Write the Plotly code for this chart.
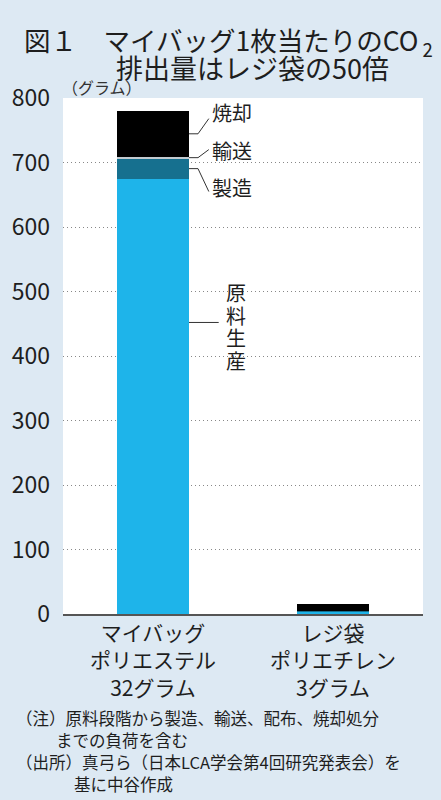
import plotly.graph_objects as go

# data (g CO2 per bag)
categories = ["マイバッグ", "レジ袋"]
tick_labels = ["マイバッグ<br>ポリエステル<br>32グラム", "レジ袋<br>ポリエチレン<br>3グラム"]
stages = ["原料生産", "製造", "輸送", "焼却"]
genryo = [675, 3.5]
seizo = [31, 1.5]
yuso = [3, 0.2]
shokyaku = [71, 11]
stage_colors = ["#1eb4ea", "#16708f", "#c3cbd0", "#000000"]

W, H = 441, 800
ML, MR, MT, MB = 61, 18, 98, 186
FONT = "Noto Sans CJK JP, Noto Sans, sans-serif"
TXT = "#1e1e1e"

def px(x):  # pixel -> paper x
    return (x - ML) / (W - ML - MR)

def py(y):  # pixel -> paper y
    return (H - MB - y) / (H - MT - MB)

fig = go.Figure()
for name, vals, col in zip(stages, [genryo, seizo, yuso, shokyaku], stage_colors):
    fig.add_trace(go.Bar(x=categories, y=vals, name=name, marker=dict(color=col, line=dict(width=0)),
                         width=0.4, showlegend=False))

# leader lines + labels for the mybag bar
edge = 0.2
top_g = genryo[0]
top_s = top_g + seizo[0]
top_y = top_s + yuso[0]
top_k = top_y + shokyaku[0]

def leader(y0, y1):
    fig.add_shape(type="line", x0=edge, x1=edge + 0.05, y0=y0, y1=y0, xref="x", yref="y",
                  line=dict(color="#333", width=1))
    fig.add_shape(type="line", x0=edge + 0.05, x1=edge + 0.11, y0=y0, y1=y1, xref="x", yref="y",
                  line=dict(color="#333", width=1))

leader((top_y + top_k) / 2, top_k - 12)
leader(top_s + yuso[0] / 2, top_k - 60)
leader((top_g + top_s) / 2, top_g - 20)
fig.add_shape(type="line", x0=edge, x1=edge + 0.165, y0=452, y1=452, xref="x", yref="y",
              line=dict(color="#333", width=1))

ann = [
    dict(x=edge + 0.115, y=777, text="焼却", xanchor="left"),
    dict(x=edge + 0.115, y=718, text="輸送", xanchor="left"),
    dict(x=edge + 0.115, y=662, text="製造", xanchor="left"),
]
for a in ann:
    fig.add_annotation(xref="x", yref="y", yanchor="middle", showarrow=False,
                       font=dict(size=20, color=TXT, family=FONT), **a)
# vertical label, one character per annotation
for i, ch in enumerate(stages[0]):
    fig.add_annotation(xref="x", yref="y", x=edge + 0.26, y=499 - i * 35.5, text=ch,
                       showarrow=False, font=dict(size=20, color=TXT, family=FONT))

# titles and notes
fig.add_annotation(xref="paper", yref="paper", x=px(20), y=py(41), xanchor="left", yanchor="middle",
                   text="図１　マイバッグ1枚当たりのCO<sub> 2</sub>", showarrow=False,
                   font=dict(size=26.5, color=TXT, family=FONT))
fig.add_annotation(xref="paper", yref="paper", x=px(252), y=py(68), xanchor="center", yanchor="middle",
                   text="排出量はレジ袋の50倍", showarrow=False,
                   font=dict(size=27, color=TXT, family=FONT))
fig.add_annotation(xref="paper", yref="paper", x=px(58), y=py(87), xanchor="left", yanchor="middle",
                   text="（グラム）", showarrow=False, font=dict(size=16, color="#333", family=FONT))

notes = [
    (12, 718, "（注）原料段階から製造、輸送、配布、焼却処分"),
    (52, 740, "までの負荷を含む"),
    (12, 762, "（出所）真弓ら（日本LCA学会第4回研究発表会）を"),
    (70, 784, "基に中谷作成"),
]
for x, y, t in notes:
    fig.add_annotation(xref="paper", yref="paper", x=px(x), y=py(y), xanchor="left", yanchor="middle",
                       text=t, showarrow=False, font=dict(size=16.5, color=TXT, family=FONT))

fig.update_layout(
    width=W, height=H, barmode="stack", bargap=0.6,
    margin=dict(l=ML, r=MR, t=MT, b=MB),
    paper_bgcolor="#dde9f3", plot_bgcolor="#ffffff",
    font=dict(family=FONT, color=TXT),
    xaxis=dict(tickmode="array", tickvals=categories, ticktext=tick_labels,
               tickfont=dict(size=21, color=TXT), showgrid=False, showline=True,
               linecolor="#555", linewidth=1.5, ticks=""),
    yaxis=dict(range=[0, 800], dtick=100, tickfont=dict(size=23, color=TXT),
               showgrid=True, gridcolor="#888", griddash="1px,3px", gridwidth=1,
               zeroline=False, showline=False, ticks="", ticklabelstandoff=12),
)

# page has a default body margin; drop it so the figure sits at the window's corner
fig.write_html("out.html", config={"displayModeBar": False},
               post_script="document.body.style.margin='0';")
